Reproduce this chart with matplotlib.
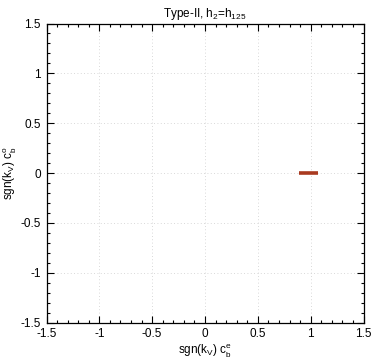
import matplotlib
matplotlib.use("Agg")
import matplotlib.pyplot as plt
from matplotlib.ticker import MultipleLocator

# allowed points
cb_e = [0.89, 0.91, 0.93, 0.95, 0.97, 0.99, 1.01, 1.03, 1.05, 1.07]
sgn_cb_o = [0, 0, 0, 0, 0, 0, 0, 0, 0, 0]

ticks = [-1.5, -1, -0.5, 0, 0.5, 1, 1.5]
tick_labels = ["-1.5", "-1", "-0.5", "0", "0.5", "1", "1.5"]

plt.rcParams["font.family"] = ["Liberation Sans", "DejaVu Sans"]
plt.rcParams["font.size"] = 8
plt.rcParams["mathtext.default"] = "regular"

fig = plt.figure(figsize=(3.74, 3.61), dpi=100)
ax = fig.add_axes([46.5 / 374, 38.5 / 361, 317 / 374, 299 / 361])

ax.plot(cb_e, sgn_cb_o, color="#a93a20", linewidth=2.6, solid_capstyle="butt")

ax.set_xlim(-1.5, 1.5)
ax.set_ylim(-1.5, 1.5)
ax.set_xticks(ticks)
ax.set_xticklabels(tick_labels)
ax.set_yticks(ticks)
ax.set_yticklabels(tick_labels)
ax.xaxis.set_minor_locator(MultipleLocator(0.1))
ax.yaxis.set_minor_locator(MultipleLocator(0.1))
ax.tick_params(which="both", direction="in", top=True, right=True, color="black", width=0.8)
ax.tick_params(which="major", length=5, pad=4, labelsize=8.5)
ax.tick_params(which="minor", length=2.5)
ax.grid(True, which="major", color="#cccccc", linestyle=(0, (1, 3)), linewidth=0.6)
for s in ax.spines.values():
    s.set_linewidth(0.9)

ax.set_title("Type-II, h$_2$=h$_{125}$", fontsize=8.5, pad=5)
ax.set_xlabel("sgn(k$_V$) c$_b^e$", fontsize=8.5, labelpad=2)
ax.set_ylabel("sgn(k$_V$) c$_b^o$", fontsize=8.5, labelpad=1)

fig.savefig("out.png", dpi=100)
